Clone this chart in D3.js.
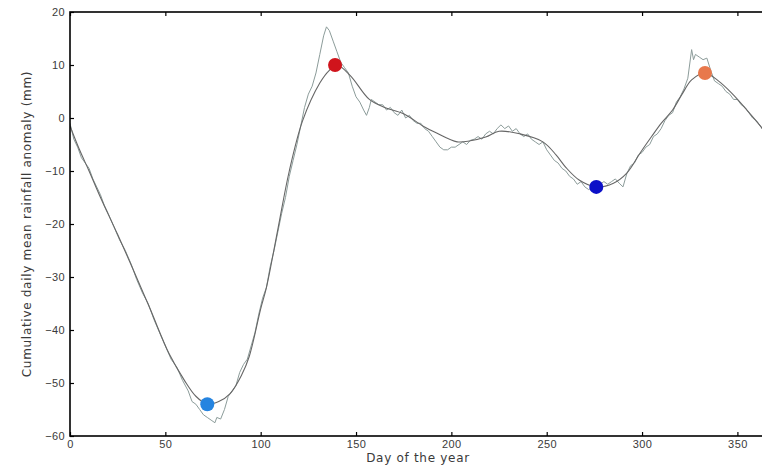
<!DOCTYPE html>
<html>
  <head>
    <meta charset='utf-8'>
    <script src='https://d3js.org/d3.v7.min.js'></script>
    <style>
body { margin: 0; background: #fff; }
svg { font-family: 'DejaVu Sans', sans-serif; }
.tick text { fill: #3a3a3a; font-size: 11px; letter-spacing: 0.4px; }
.tick line { stroke: #000; stroke-width: 1.2; }
.axis-label { fill: #3a3a3a; font-size: 12px; letter-spacing: 0.7px; }
    </style>
  </head>
  <body>
    <div id='chart'></div>
    <script>
// smoothed cumulative anomaly, [day, mm]
const smoothDays = [0, 5, 10, 16, 25, 33, 42, 52, 60, 66, 72, 78, 84, 90, 94, 100, 103, 109, 115, 122, 131, 136, 140, 147, 157, 165, 175, 185, 192, 203, 210, 218, 225, 236, 248, 255, 260, 267, 276, 285, 292, 299, 305, 310, 316, 321, 326, 333, 340, 347, 355, 362, 365];
const smoothVals = [-1.5, -6, -10, -15, -22, -28.5, -36, -44.5, -49.5, -52.5, -54, -53.5, -52, -48.5, -45, -36, -32, -21, -10, -0.5, 6.6, 9, 10, 8, 3.5, 2, 0.8, -1.5, -2.8, -4.5, -4.3, -3.6, -2.5, -3, -4.5, -7, -9.3, -11.7, -13, -12.3, -10.4, -6.6, -3.5, -1, 1.5, 4.5, 7.2, 8.5, 7, 4.7, 1.5, -1.5, -3];

// raw cumulative anomaly, [day, mm]
const rawDays = [0, 2, 4, 6, 8, 10, 12, 14, 16, 18, 20, 23, 26, 29, 32, 35, 38, 41, 44, 47, 50, 53, 56, 59, 62, 64, 66, 68, 70, 72, 74, 76, 77, 79, 81, 83, 85, 87, 89, 91, 93, 95, 97, 99, 101, 103, 105, 107, 109, 111, 113, 115, 117, 119, 121, 123, 125, 127, 129, 131, 133, 134.5, 136, 138, 140, 142, 144, 146, 148, 150, 152, 154, 155.5, 157, 158, 160, 162, 164, 166, 168, 170, 172, 174, 176, 178, 180, 182, 184, 186, 188, 190, 192, 194, 196, 198, 200, 202, 204, 206, 208, 210, 212, 214, 216, 218, 220, 222, 224, 226, 228, 230, 232, 234, 236, 238, 240, 242, 244, 246, 248, 250, 252, 254, 256, 258, 260, 262, 264, 266, 268, 270, 272, 274, 276, 278, 280, 282, 284, 286, 288, 290, 292, 294, 296, 298, 300, 302, 304, 306, 308, 310, 312, 314, 316, 318, 320, 322, 324, 326, 327, 328, 330, 332, 334, 336, 338, 340, 342, 344, 346, 348, 350, 352, 354, 356, 358, 360, 362, 364, 365];
const rawVals = [-1, -4, -5.5, -7.5, -8.5, -9.5, -11.5, -13, -14.5, -16.5, -18, -20.5, -23, -25, -27.5, -30.5, -33, -35, -38, -40.5, -43, -45.5, -47, -49.5, -51.5, -53.5, -54, -55, -56, -56.5, -57, -57.5, -56.5, -56.8, -55, -52.5, -51.5, -50.5, -48, -46.5, -45.5, -43, -40.5, -37, -34, -32, -28, -25, -21.5, -18, -15, -11, -8, -5, -1.5, 2, 4.5, 6, 8.5, 12, 15.5, 17.2, 16.5, 14.5, 12.5, 10.5, 9.5, 8.5, 6, 4, 3, 1.5, 0.5, 2, 3.5, 3, 2.5, 2.5, 1.5, 2, 1, 0.5, 1.5, 0, 0.5, -0.5, -1, -1, -2, -2.5, -3.5, -4.5, -5.5, -6, -6, -5.5, -5.5, -5, -4.5, -5, -4.2, -4, -3.5, -4, -3, -2.5, -3, -2, -1.3, -2, -1.5, -2.5, -2, -3, -3.5, -3, -4, -4.5, -5, -4.5, -6, -7, -8, -8.5, -9.5, -10, -11, -11.5, -12.5, -12, -13, -13.5, -13, -13.5, -12.5, -12, -12.5, -12, -11.5, -12.3, -13, -10.5, -9, -8.5, -7, -6.5, -5.5, -5, -3.5, -3, -2, -0.5, 0.5, 1, 3, 4, 5.5, 7.5, 12.9, 11, 12, 11.5, 11, 11.3, 9, 7, 6.5, 6, 5, 4.5, 3.5, 3.5, 2.5, 2, 1, 0, -0.5, -1.5, -2.5, -3];

// marked extremes of the smoothed curve
const markDays = [72, 139, 276, 333];
const markVals = [-54, 10, -13, 8.5];
const markColors = ['#2584e0', '#d0141c', '#0c10c8', '#e8784c'];

const xTicks = [0, 50, 100, 150, 200, 250, 300, 350];
const yTicks = [-60, -50, -40, -30, -20, -10, 0, 10, 20];

const width = 762, height = 467;
const plot = { left: 70, right: 766, top: 12, bottom: 436 };

var svg = d3.select('#chart').append('svg')
    .attr('width', width)
    .attr('height', height);

const x = d3.scaleLinear().domain([0, 365]).range([plot.left, plot.right]);
const y = d3.scaleLinear().domain([-60, 20]).range([plot.bottom, plot.top]);

svg.append('clipPath').attr('id', 'clip')
   .append('rect')
   .attr('x', plot.left).attr('y', plot.top)
   .attr('width', plot.right - plot.left)
   .attr('height', plot.bottom - plot.top);

var body = svg.append('g').attr('clip-path', 'url(#clip)');

var raw = rawDays.map(function(d, i) { return [d, rawVals[i]]; });
var smooth = smoothDays.map(function(d, i) { return [d, smoothVals[i]]; });

var rawLine = d3.line()
    .x(function(d) { return x(d[0]); })
    .y(function(d) { return y(d[1]); });

var smoothLine = d3.line()
    .curve(d3.curveCatmullRom)
    .x(function(d) { return x(d[0]); })
    .y(function(d) { return y(d[1]); });

body.append('path').datum(raw)
    .attr('d', rawLine)
    .attr('fill', 'none')
    .attr('stroke', '#8c9c9a')
    .attr('stroke-width', 1);

body.append('path').datum(smooth)
    .attr('d', smoothLine)
    .attr('fill', 'none')
    .attr('stroke', '#666')
    .attr('stroke-width', 1.1);

body.selectAll('circle').data(markDays)
    .enter().append('circle')
    .attr('cx', function(d) { return x(d); })
    .attr('cy', function(d, i) { return y(markVals[i]); })
    .attr('r', 7)
    .attr('fill', function(d, i) { return markColors[i]; });

// axes, ticks pointing inward
svg.append('g')
   .attr('transform', 'translate(0,' + plot.bottom + ')')
   .call(d3.axisBottom(x).tickValues(xTicks).tickSize(-4).tickPadding(4))
   .call(function(g) { g.select('.domain').remove(); });

svg.append('g')
   .attr('transform', 'translate(0,' + plot.top + ')')
   .call(d3.axisTop(x).tickValues(xTicks).tickSize(-4).tickFormat(''))
   .call(function(g) { g.select('.domain').remove(); });

svg.append('g')
   .attr('transform', 'translate(' + plot.left + ',0)')
   .call(d3.axisLeft(y).tickValues(yTicks).tickSize(-4).tickPadding(5))
   .call(function(g) { g.select('.domain').remove(); });

svg.append('rect')
   .attr('x', plot.left).attr('y', plot.top)
   .attr('width', plot.right - plot.left)
   .attr('height', plot.bottom - plot.top)
   .attr('fill', 'none')
   .attr('stroke', '#000')
   .attr('stroke-width', 1.6);

svg.append('text')
   .attr('class', 'axis-label')
   .attr('x', (plot.left + plot.right) / 2)
   .attr('y', 462)
   .attr('text-anchor', 'middle')
   .text('Day of the year');

svg.append('text')
   .attr('class', 'axis-label')
   .attr('transform', 'translate(31,' + (plot.top + plot.bottom) / 2 + ') rotate(-90)')
   .attr('text-anchor', 'middle')
   .text('Cumulative daily mean rainfall anomaly (mm)');
    </script>
  </body>
</html>
